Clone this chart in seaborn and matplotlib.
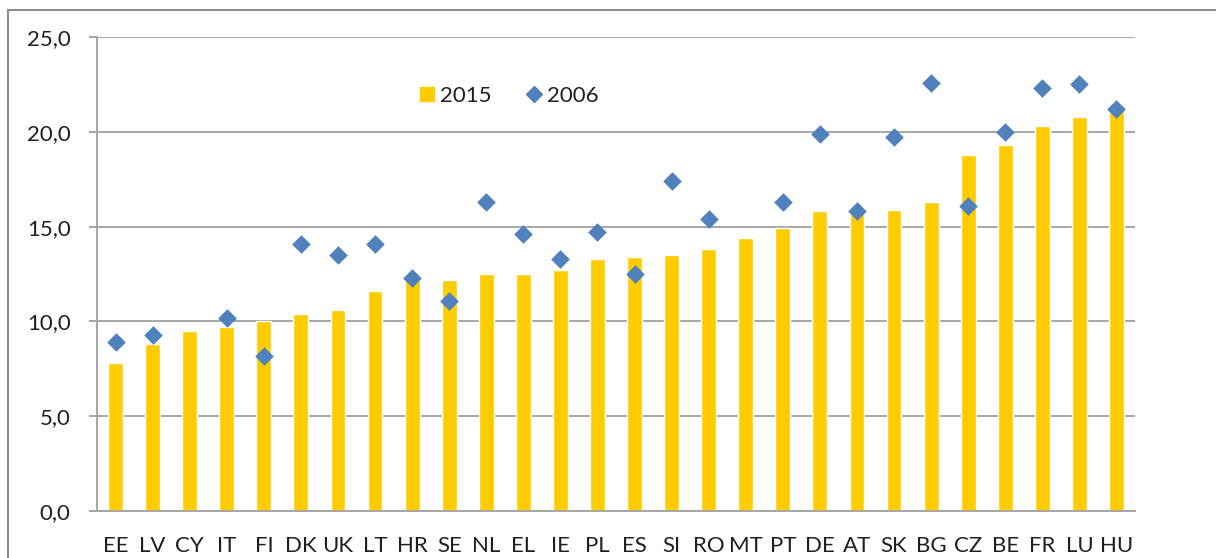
import matplotlib
matplotlib.use("Agg")
import matplotlib.pyplot as plt
import numpy as np
import pandas as pd
import seaborn as sns
from matplotlib.lines import Line2D
from matplotlib.patches import Rectangle
from matplotlib.ticker import FuncFormatter, FixedLocator

# Valores
COUNTRIES = ["EE", "LV", "CY", "IT", "FI", "DK", "UK", "LT", "HR", "SE",
             "NL", "EL", "IE", "PL", "ES", "SI", "RO", "MT", "PT", "DE",
             "AT", "SK", "BG", "CZ", "BE", "FR", "LU", "HU"]
VALUES_2015 = [7.8, 8.8, 9.5, 9.7, 10.0, 10.4, 10.6, 11.6, 12.2, 12.2,
               12.5, 12.5, 12.7, 13.3, 13.4, 13.5, 13.8, 14.4, 14.9, 15.8,
               15.8, 15.9, 16.3, 18.8, 19.3, 20.3, 20.8, 21.4]
VALUES_2006 = [8.9, 9.3, np.nan, 10.2, 8.2, 14.1, 13.5, 14.1, 12.3, 11.1,
               16.3, 14.6, 13.3, 14.7, 12.5, 17.4, 15.4, np.nan, 16.3, 19.9,
               15.8, 19.7, 22.6, 16.1, 20.0, 22.3, 22.5, 21.2]
Y_TICKS = [0, 5, 10, 15, 20, 25]

BAR_COLOR = "#FFCC00"
DIAMOND_COLOR = "#4F81BD"
GRID_COLOR = "#a6a6a6"
TEXT_COLOR = "#1f1f1f"

sns.set_style("white")
plt.rcParams["font.family"] = ["Lato", "DejaVu Sans"]

df = pd.DataFrame({"country": COUNTRIES, "v2015": VALUES_2015, "v2006": VALUES_2006})

fig = plt.figure(figsize=(12.16, 5.58), dpi=100)
ax = fig.add_axes([97 / 1216, 47 / 558, (1135 - 97) / 1216, (511 - 37) / 558])

sns.barplot(data=df, x="country", y="v2015", order=COUNTRIES, color=BAR_COLOR,
            saturation=1, width=0.4, errorbar=None, ax=ax, zorder=2)
sns.stripplot(data=df, x="country", y="v2006", order=COUNTRIES, color=DIAMOND_COLOR,
              jitter=False, marker="D", size=9.5, linewidth=0, ax=ax, zorder=3)

ax.set_xlim(-0.5, len(COUNTRIES) - 0.5)
ax.set_ylim(0, 25)
ax.set_xlabel("")
ax.set_ylabel("")

ax.yaxis.set_major_locator(FixedLocator(Y_TICKS))
ax.yaxis.set_major_formatter(FuncFormatter(lambda v, _: f"{v:.1f}".replace(".", ",")))
ax.yaxis.grid(True, color=GRID_COLOR, linewidth=1.4)
ax.set_axisbelow(True)

# marcas del eje x entre categorias, etiquetas sin marca
ax.set_xticks(np.arange(-0.5, len(COUNTRIES), 1), minor=True)
ax.tick_params(axis="x", which="major", length=0, pad=18, labelsize=16, labelcolor=TEXT_COLOR)
ax.tick_params(axis="x", which="minor", length=6, width=1.4, color=GRID_COLOR, direction="out")
ax.tick_params(axis="y", which="major", length=6, width=1.4, color=GRID_COLOR, pad=13,
               labelsize=16, labelcolor=TEXT_COLOR, left=True)

for side in ["top", "right"]:
    ax.spines[side].set_visible(False)
for side in ["left", "bottom"]:
    ax.spines[side].set_color(GRID_COLOR)
    ax.spines[side].set_linewidth(1.4)

handles = [
    Line2D([], [], linestyle="none", marker="s", markersize=10, color=BAR_COLOR),
    Line2D([], [], linestyle="none", marker="D", markersize=8, color=DIAMOND_COLOR),
]
ax.legend(handles, ["2015", "2006"], loc="center", bbox_to_anchor=(0.395, 0.875),
          ncol=2, frameon=False, fontsize=16, handletextpad=0.1, columnspacing=1.4,
          handlelength=1.0, labelcolor=TEXT_COLOR)

# marco del grafico (como en Excel)
fig.add_artist(Rectangle((8 / 1216, -0.1), 1.2, (558 - 10) / 558 + 0.1,
                         transform=fig.transFigure, fill=False,
                         edgecolor="#8c8c8c", linewidth=1.5))

fig.savefig("out.png", dpi=100)
